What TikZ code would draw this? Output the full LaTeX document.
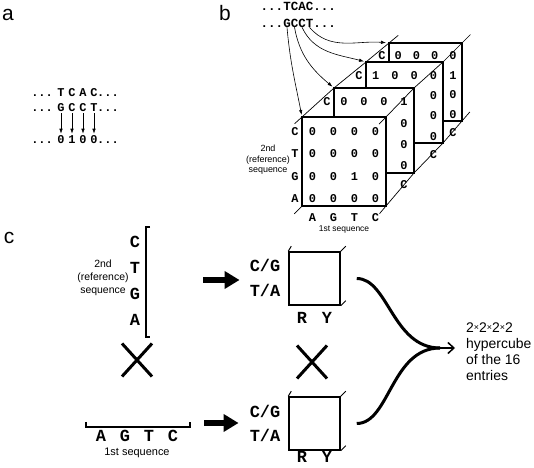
\documentclass[tikz,border=0pt]{standalone}
\usepackage{fontspec}
\setmainfont{Liberation Sans}
\newfontfamily\seqfont{Liberation Mono}
\usetikzlibrary{arrows.meta,calc,shapes.misc}
\newcommand{\timesmark}{{\fontsize{9}{9}\selectfont\raisebox{2bp}{×}}}

\tikzset{
  panel/.style={inner sep=0pt, font=\fontsize{21}{21}\selectfont},
  seq/.style={inner sep=0pt, text height=0.62em, text depth=0pt, font=\seqfont\bfseries\fontsize{12}{12}\selectfont},
  seqb/.style={seq, font=\seqfont\bfseries\fontsize{12.5}{12.5}\selectfont},
  big/.style={seq, font=\seqfont\bfseries\fontsize{17}{17}\selectfont},
  note/.style={inner sep=0pt, align=center, font=\fontsize{9}{10.5}\selectfont},
  notec/.style={inner sep=0pt, align=center, font=\fontsize{10.5}{13}\selectfont},
  layer/.style={draw, fill=white, line width=1.6bp},
  edge/.style={line width=0.7bp},
  ptr/.style={line width=0.6bp, -{Latex[length=5bp,width=3.5bp]}},
  fat/.style={line width=5.5bp, -{Triangle[length=15bp,width=17bp]}},
  brk/.style={line width=2bp},
  cross/.style={cross out, draw, line width=3bp, minimum width=27bp, minimum height=30bp, inner sep=0pt},
  sqbox/.style={draw, line width=1.5bp, minimum width=51bp, minimum height=53bp, inner sep=0pt},
  merge/.style={line width=3bp}
}

\begin{document}
\begin{tikzpicture}[x=1bp,y=1bp]
  \useasboundingbox[fill=white] (0,0) rectangle (534,468);
  %% panel a
  \node[panel] (la) at (8,453) {a};
  \node[seq, anchor=east] (a0) at (53,375) {...}; \node[seq, anchor=west] (a5) at (97,375) {...};
  \node[seq, anchor=east] (b0) at (53,360) {...}; \node[seq, anchor=west] (b5) at (97,360) {...};
  \node[seq, anchor=east] (d0) at (53,328) {...}; \node[seq, anchor=west] (d5) at (97,328) {...};
  \foreach \t/\g/\d [count=\i] in {T/G/0,C/C/1,A/C/0,C/T/0}{
    \node[seq] (a\i) at (50+11*\i,375) {\t};
    \node[seq] (b\i) at (50+11*\i,360) {\g};
    \node[seq] (d\i) at (50+11*\i,328) {\d};
    \draw[ptr, shorten <=2bp, shorten >=3bp] (b\i) -- (d\i);
  }
  %% panel b
  \node[panel] (lb) at (225,455) {b};
  \node[seqb, anchor=east] (t0) at (283.25,461) {...}; \node[seqb, anchor=west] (t5) at (313.25,461) {...};
  \node[seqb, anchor=east] (g0) at (283.25,444) {...}; \node[seqb, anchor=west] (g5) at (313.25,444) {...};
  \foreach \t/\g [count=\i] in {T/G,C/C,A/C,C/T}{
    \node[seqb] (t\i) at (279.5+7.5*\i,461) {\t};
    \node[seqb] (g\i) at (279.5+7.5*\i,444) {\g};
  }
  % layers, back to front (only the cells left in view)
  \foreach \n/\x/\y/\w/\h/\r/\c in {4/389/347/73/78/2/4, 3/366/325/77/81/1/1, 2/334/295/80/85/1/4, 1/302/262/84/89/3/3}{
    \draw[layer] (\x,\y) rectangle ++(\w,\h);
    \coordinate (tl\n) at (\x,\y+\h); \coordinate (tr\n) at (\x+\w,\y+\h);
    \coordinate (br\n) at (\x+\w,\y); \coordinate (bl\n) at (\x,\y);
    \foreach \lab [count=\i] in {C,T,G,A}{
      \pgfmathtruncatemacro\vis{or(\n==1,\i==1)}
      \ifnum\vis=1 \node[seq] (r\n\i) at (\x-7,{\y+\h*(1-(\i-0.3)/4)}) {\lab}; \fi
      \foreach \k [count=\j] in {A,G,T,C}{
        \pgfmathtruncatemacro\v{and(\i==\r,\j==\c)}
        \pgfmathtruncatemacro\vis{or(\n==1,or(\i==1,\j==4))}
        \ifnum\vis=1 \node[seq] (m\n\i\j) at ({\x+\w*(\j-0.5)/4},{\y+\h*(1-(\i-0.3)/4)}) {\v}; \fi
      }
    }
    \foreach \lab [count=\j] in {A,G,T,C}{
      \pgfmathtruncatemacro\vis{or(\n==1,\j==4)}
      \ifnum\vis=1 \node[seq] (k\n\j) at ({\x+\w*(\j-0.5)/4},\y-12) {\lab}; \fi
    }
  }
  \draw[edge] ($(tl1)!-10bp!(tl2)$) -- (tl1) -- (tl2) -- (tl3) -- (tl4) -- ($(tl4)!-12bp!(tl3)$);
  \draw[edge] ($(tr1)!-10bp!(tr2)$) -- (tr1) -- (tr2) -- (tr3) -- (tr4) -- ($(tr4)!-12bp!(tr3)$);
  \draw[edge] ($(br1)!-10bp!(br2)$) -- (br1) -- (br2) -- (br3) -- (br4) -- ($(br4)!-12bp!(br3)$);
  \draw[edge] ($(bl1)!-11bp!(bl2)$) -- (bl1);
  \draw[ptr, shorten >=2bp] (g1.south) to[out=-85,in=101] (tl1);
  \draw[ptr, shorten >=2bp] (g2.south) to[out=-80,in=140] (tl2);
  \draw[ptr, shorten >=2bp] (g3.south) to[out=-65,in=165] (tl3);
  \draw[ptr, shorten >=3bp] (g4.south) to[out=-50,in=175] (tl4);
  \node[note] (ref2) at (268,308) {2nd\\(reference)\\sequence};
  \node[note, font=\fontsize{8.5}{10}\selectfont] (fst) at (344,239) {1st sequence};
  %% panel c
  \node[panel] (lc) at (9,230) {c};
  \foreach \lab/\yy [count=\i] in {C/224,T/198,G/172,A/146}
    \node[big] (v\i) at (135,\yy) {\lab};
  \draw[brk] (150,241) -- (146,241) -- (146,131) -- (150,131);
  \node[notec] (ref3) at (103,190) {2nd\\(reference)\\sequence};
  \node[cross] (x1) at (137,108) {};
  \foreach \lab/\xx [count=\j] in {A/101,G/125,T/149,C/173}
    \node[big] (h\j) at (\xx,30) {\lab};
  \draw[brk] (86,46) -- (86,41) -- (190,41) -- (190,46);
  \node[notec, font=\fontsize{11}{13}\selectfont] (fst2) at (137,15) {1st sequence};
  % reduced boxes
  \node[sqbox] (q1) at (314.5,189.5) {};
  \node[sqbox] (q2) at (314.5,44.5) {};
  \foreach \q in {q1,q2}{
    \draw[line width=1bp] (\q.north west) -- ++(3,5);
    \draw[line width=1bp] (\q.north east) -- ++(5,5);
    \draw[line width=1bp] (\q.south east) -- ++(5,5);
  }
  \node[big] (cg1) at (265,200) {C/G}; \node[big] (ta1) at (265,175) {T/A};
  \node[big] (cg2) at (265,54) {C/G}; \node[big] (ta2) at (265,30) {T/A};
  \node[big] (ry1) at (302,148) {R}; \node[big] (yy1) at (327,148) {Y};
  \node[big] (ry2) at (302,9) {R}; \node[big] (yy2) at (327,9) {Y};
  \node[cross] (x2) at (312,106) {};
  \coordinate (p1) at (203,188); \coordinate (p2) at (204,45);
  \draw[fat, shorten >=10bp] (p1) -- (p1 -| cg1.west);
  \draw[fat, shorten >=11bp] (p2) -- (p2 -| cg2.west);
  % merging into the hypercube
  \node[anchor=west, align=left, inner sep=0pt, font=\fontsize{14}{16}\selectfont] (hc) at (466,116) {2\timesmark2\timesmark2\timesmark2\\hypercube\\of the 16\\entries};
  \coordinate (m) at (440,120);
  \draw[merge, shorten <=16bp] (q1.east) to[out=0,in=180] (m);
  \draw[merge, shorten <=16bp] (q2.east) to[out=0,in=180] (m);
  \draw[line width=1.5bp, shorten >=11bp, -{Straight Barb[length=6bp,width=11bp]}] (m) -- (m -| hc.west);
\end{tikzpicture}
\end{document}
